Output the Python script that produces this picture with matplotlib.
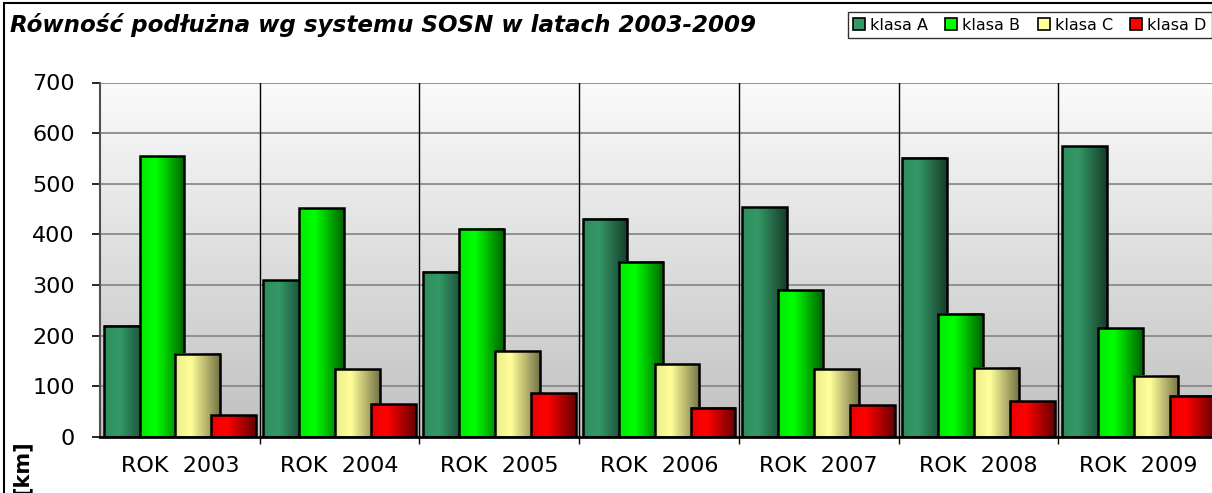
import numpy as np
import matplotlib.pyplot as plt
from matplotlib.colors import LinearSegmentedColormap, to_rgb
from matplotlib.patches import Rectangle

# data [km]
years = ["ROK  2003", "ROK  2004", "ROK  2005", "ROK  2006", "ROK  2007", "ROK  2008", "ROK  2009"]
klasa_a = [220, 310, 326, 431, 454, 551, 574]
klasa_b = [554, 452, 411, 346, 290, 243, 215]
klasa_c = [164, 134, 169, 144, 134, 137, 121]
klasa_d = [43, 65, 86, 58, 63, 71, 81]
series = [klasa_a, klasa_b, klasa_c, klasa_d]
names = ["klasa A", "klasa B", "klasa C", "klasa D"]
# (light side, dark side) of each bar gradient
colours = [("#339966", "#173d2b"), ("#00ff00", "#006400"),
           ("#ffff99", "#777448"), ("#ff0000", "#6a0000")]

W, H = 1212, 493
fig = plt.figure(figsize=(W / 100, H / 100), dpi=100)
ax = fig.add_axes([100 / W, 1 - 437 / H, 1118 / W, 354.5 / H])

x = np.arange(len(years))
step, width = 0.225, 0.28

# plot area background: light at top, grey at bottom
bg = np.linspace(0, 1, 256).reshape(-1, 1)
bg_cmap = LinearSegmentedColormap.from_list("bg", ["#c0c0c0", "#fbfbfb"])
ax.imshow(bg, cmap=bg_cmap, extent=[-0.5, len(years) - 0.5, 0, 700],
          origin="lower", aspect="auto", zorder=0)

for v in range(100, 701, 100):
    ax.axhline(v, color="#8a8a8a", lw=1.3, zorder=1)
for b in x[1:] - 0.5:
    ax.axvline(b, color="black", lw=1.0, zorder=1)

grad = np.linspace(0, 1, 64).reshape(1, -1)
for i, (vals, name, (c1, c2)) in enumerate(zip(series, names, colours)):
    light = np.array(to_rgb(c1))
    dark = np.array(to_rgb(c2))
    cmap = LinearSegmentedColormap.from_list(
        name, [(0, light * 0.92), (0.35, light), (1, dark)])
    bars = ax.bar(x + (i - 1.5) * step, vals, width, facecolor="none",
                  edgecolor="black", linewidth=1.8, zorder=3 + i * 2 + 1,
                  label=name)
    for bar in bars:
        x0, y0 = bar.get_x(), bar.get_y()
        ax.imshow(grad, cmap=cmap, aspect="auto",
                  extent=[x0, x0 + bar.get_width(), y0, y0 + bar.get_height()],
                  zorder=3 + i * 2)

ax.set_xlim(-0.5, len(years) - 0.5)
ax.set_ylim(0, 700)

ax.set_yticks(range(0, 701, 100))
ax.tick_params(axis="y", labelsize=16, length=6, direction="out", width=1.2, pad=12)
ax.set_xticks(x)
ax.set_xticklabels(years, fontsize=16)
ax.tick_params(axis="x", length=0, pad=14)
ax.set_xticks(x[1:] - 0.5, minor=True)
ax.tick_params(axis="x", which="minor", length=5, direction="out", width=1)

for s in ["top", "right"]:
    ax.spines[s].set_visible(False)
ax.spines["left"].set_color("#505050")
ax.spines["left"].set_linewidth(1.5)
ax.spines["bottom"].set_color("black")
ax.spines["bottom"].set_linewidth(2.0)
ax.spines["bottom"].set_zorder(20)

fig.text(10 / W, 1 - 32 / H, "Równość podłużna wg systemu SOSN w latach 2003-2009",
         fontsize=16.6, fontweight="bold", fontstyle="italic", va="baseline", ha="left")
fig.text(22 / W, 1 - 440 / H, "[km]", rotation=90, fontsize=15,
         fontweight="bold", ha="center", va="top")

handles = [Rectangle((0, 0), 1, 1, facecolor=c1, edgecolor="black", lw=1.2)
           for c1, _ in colours]
leg = fig.legend(handles, names, loc="upper right", bbox_to_anchor=(1.0, 1 - 12 / H),
                 ncol=4, fontsize=11.5, frameon=True, fancybox=False,
                 handlelength=0.75, handleheight=0.75, handletextpad=0.3,
                 columnspacing=1.1, borderpad=0.35, borderaxespad=0)
leg.get_frame().set_edgecolor("black")
leg.get_frame().set_linewidth(1.0)

# outer chart frame (right and bottom are cut off in the reference)
fig.patches.append(Rectangle((3.5 / W, -0.1), 1.2, 1 - 3.5 / H + 0.1,
                             transform=fig.transFigure, fill=False,
                             edgecolor="black", lw=1.5))

fig.savefig("out.png", dpi=100)
